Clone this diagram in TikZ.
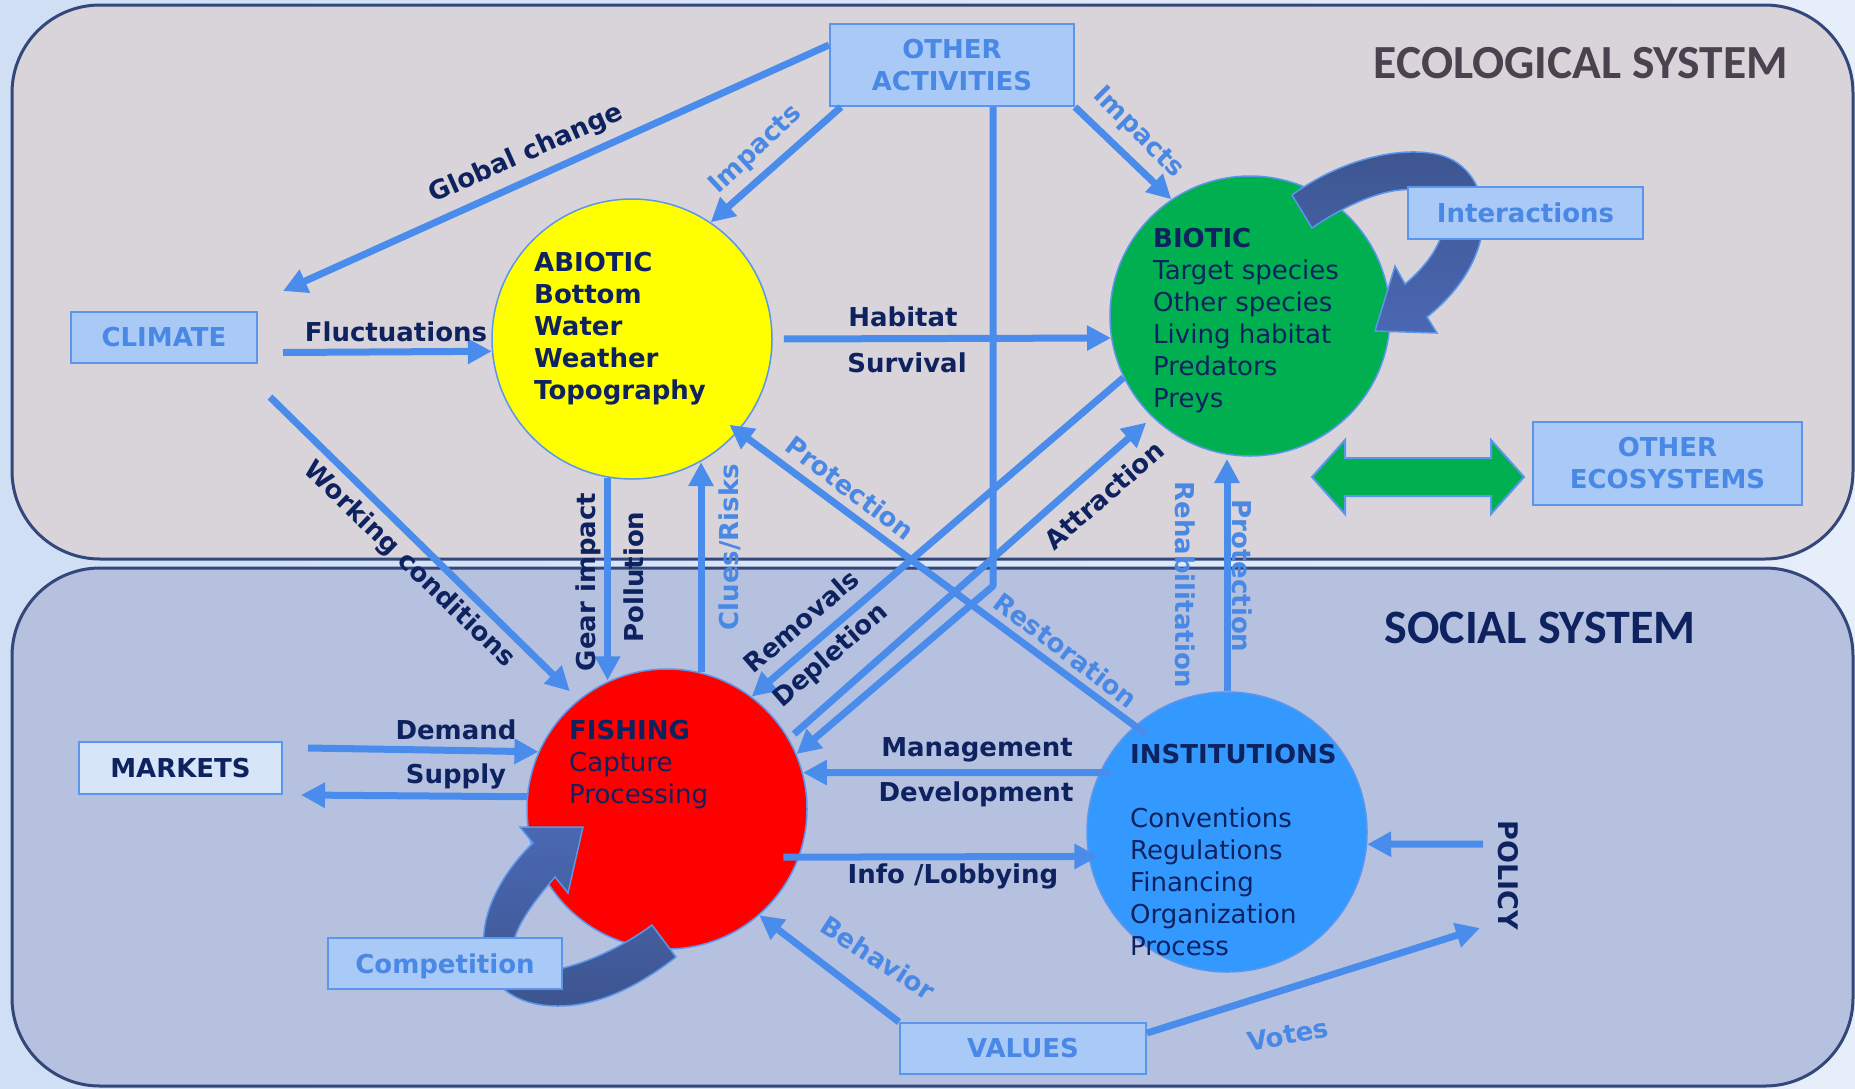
\documentclass[tikz,border=0pt]{standalone}
\usepackage{fontspec}
\setmainfont{DejaVu Sans}
\newfontfamily\titlefont{Carlito}
\usetikzlibrary{arrows.meta,calc}

\definecolor{bgleft}{HTML}{D0DFF4}
\definecolor{bgright}{HTML}{E6EEFA}
\definecolor{ecofill}{HTML}{D9D4DA}
\definecolor{socfill}{HTML}{B5C1DF}
\definecolor{panelline}{HTML}{33477A}
\definecolor{arrowblue}{HTML}{4A8CEB}
\definecolor{boxfill}{HTML}{A9C9F6}
\definecolor{boxline}{HTML}{5A96EC}
\definecolor{palebox}{HTML}{D6E6F8}
\definecolor{lblue}{HTML}{4A88E6}
\definecolor{navy}{HTML}{0E2260}
\definecolor{sunyellow}{HTML}{FFFF00}
\definecolor{leafgreen}{HTML}{00B050}
\definecolor{firered}{HTML}{FF0000}
\definecolor{skyblue}{HTML}{3399FF}
\definecolor{banddark}{HTML}{3D5590}
\definecolor{bandlight}{HTML}{4A68B2}
\definecolor{titlegray}{HTML}{4A424E}

\newcommand\dlabsize{\fontsize{26}{32}\selectfont}

\begin{document}
\begin{tikzpicture}[x=1pt, y=-1pt,
  conn/.style={draw=arrowblue, line width=7pt, line join=round},
  arr/.style={conn, -{Triangle[length=24pt,width=24pt]}},
  sphere/.style={circle, minimum size=280pt, inner sep=0pt, draw=boxline, line width=1.5pt},
  box/.style={rectangle, draw=boxline, line width=2pt, fill=boxfill, text=lblue,
    font=\bfseries\dlabsize, inner sep=0pt, align=center},
  lab/.style={text=navy, font=\bfseries\dlabsize, inner sep=0pt},
  lablight/.style={text=lblue, font=\bfseries\dlabsize, inner sep=0pt},
  circtext/.style={anchor=north west, align=left, inner sep=0pt, text=navy, font=\dlabsize},
  band/.style={draw=boxline, line width=1.5pt},
  panel/.style={draw=panelline, line width=3pt, rounded corners=88pt},
]
\useasboundingbox (0,0) rectangle (1855,1088);
\shade[left color=bgleft, right color=bgright] (0,0) rectangle (1855,1088);

% the two systems
\draw[panel, fill=ecofill] (12,5) rectangle (1853,559);
\draw[panel, fill=socfill] (12,568) rectangle (1853,1086);

\node[text=titlegray, font=\titlefont\bfseries\fontsize{47.5}{52}\selectfont, inner sep=0pt]
  (ecotitle) at (1581,63) {ECOLOGICAL SYSTEM};
\node[text=navy, font=\titlefont\bfseries\fontsize{48}{54}\selectfont, inner sep=0pt]
  (soctitle) at (1540,628) {SOCIAL SYSTEM};

% compartments
\node[sphere, fill=sunyellow] (abiotic) at (632,339) {};
\node[sphere, fill=leafgreen] (biotic) at (1250,316) {};
\node[sphere, fill=firered] (fishing) at (667,809) {};
\node[sphere, fill=skyblue] (institutions) at (1227,832) {};

% feedback loops
\path[band, top color=banddark, bottom color=bandlight]
  (1292,195) .. controls (1340,160) and (1400,145) .. (1440,155)
  .. controls (1495,170) and (1505,255) .. (1427,317)
  -- (1437,333) -- (1375,331) -- (1395,266) -- (1405,284)
  .. controls (1440,255) and (1458,215) .. (1430,195)
  .. controls (1400,178) and (1345,205) .. (1312,228) -- cycle;
\path[band, top color=bandlight, bottom color=banddark]
  (583,827) -- (568,893) -- (555,877)
  .. controls (535,900) and (516,925) .. (513,945)
  .. controls (510,968) and (535,975) .. (563,968)
  .. controls (595,960) and (628,943) .. (652,925)
  -- (676,957)
  .. controls (640,985) and (600,1006) .. (558,1006)
  .. controls (515,1006) and (488,985) .. (484,950)
  .. controls (480,910) and (505,870) .. (533,843)
  -- (520,827) -- cycle;

% boxes
\node[box, minimum width=244pt, minimum height=82pt] (oa) at (952,65) {OTHER\\ACTIVITIES};
\node[box, minimum width=186pt, minimum height=51pt] (climate) at (164,337.5) {CLIMATE};
\node[box, minimum width=235pt, minimum height=52pt] (interactions) at (1525.5,213) {Interactions};
\node[box, minimum width=269pt, minimum height=83pt] (otheco) at (1667.5,463.5) {OTHER\\ECOSYSTEMS};
\node[box, fill=palebox, text=navy, minimum width=203pt, minimum height=52pt] (markets) at (180.5,768) {MARKETS};
\node[box, text depth=0pt, minimum width=234pt, minimum height=51pt] (competition) at (445,963.5) {Competition};
\node[box, minimum width=246pt, minimum height=51pt] (values) at (1023,1048.5) {VALUES};

% exchange with other ecosystems
\draw[draw=boxline, line width=2pt, fill=leafgreen]
  (1312,477) -- (1345,440) -- (1345,458) -- (1491,458) -- (1491,440) -- (1524,477)
  -- (1491,514) -- (1491,496) -- (1345,496) -- (1345,514) -- cycle;

% free ends
\coordinate (depcorner) at (993,586);
\coordinate (policystart) at (1483,844);
\coordinate (votesend) at (1480,928);

% connectors
\draw[arr] ([yshift=20pt]oa.west) -- ([shift={(25pt,20pt)}]climate.north east);
\draw[arr] ([xshift=12pt]oa.south west) -- (abiotic.56);
\draw[arr] (oa.south east) -- (biotic.124);
\draw[arr] ([xshift=41pt]oa.south) -- (depcorner) -- (fishing.23);
\draw[arr] ([shift={(25pt,-15pt)}]climate.east) -- (abiotic.185);
\draw[arr, shorten <=11pt] (abiotic.east) -- (biotic.189);
\draw[arr, shorten >=12pt] ([shift={(12pt,-33pt)}]climate.south east) -- (fishing.129);
\draw[arr] (abiotic.260) -- (abiotic.260 |- fishing.114);
\draw[arr] (fishing.76) -- (fishing.76 |- abiotic.-61);
\draw[arr] (biotic.206) -- (fishing.53);
\draw[arr, shorten <=7pt, shorten >=8pt] (fishing.30) -- (biotic.226);
\draw[arr, shorten <=-14pt, shorten >=-11pt] (institutions.131) -- (abiotic.-41);
\draw[arr, shorten >=4pt] (institutions.north) -- (institutions.north |- biotic.-99);
\draw[arr] ([shift={(25pt,20pt)}]markets.east) -- (fishing.156);
\draw[arr] (fishing.175) -- ([shift={(18pt,-27pt)}]markets.east);
\draw[arr, shorten <=-11pt] (institutions.155) -- (fishing.15);
\draw[arr, shorten <=-16pt, shorten >=-10pt] (fishing.-20) -- (institutions.190);
\draw[arr] (policystart) -- (institutions.-5);
\draw[arr] (values.north west) -- (fishing.-49);
\draw[arr] ([yshift=-11pt]values.north east) -- (votesend);

% compartment contents
\node[circtext, font=\bfseries\dlabsize] (abiotictxt) at (534,252) {ABIOTIC\\Bottom\\Water\\Weather\\Topography};
\node[circtext] (biotictxt) at (1153,228) {\textbf{BIOTIC}\\Target species\\Other species\\Living habitat\\Predators\\Preys};
\node[circtext] (fishingtxt) at (569,720) {\textbf{FISHING}\\Capture\\Processing};
\node[circtext] (insttxt) at (1130,744) {\textbf{INSTITUTIONS}\\[32pt]Conventions\\Regulations\\Financing\\Organization\\Process};

% connector labels
\node[lab, rotate=24] (lglobal) at (526,154) {Global change};
\node[lablight, rotate=43] (limpl) at (756,150) {Impacts};
\node[lablight, rotate=-45] (limpr) at (1138,133) {Impacts};
\node[lab] (lfluct) at (396,332) {Fluctuations};
\node[lab] (lhabitat) at (903,317) {Habitat};
\node[lab] (lsurvival) at (907,363) {Survival};
\node[lab, rotate=-44] (lworking) at (409,565) {Working conditions};
\node[lab, rotate=90] (lgear) at (588,582) {Gear impact};
\node[lab, rotate=90] (lpollution) at (634,577) {Pollution};
\node[lablight, rotate=90] (lclues) at (730,547) {Clues/Risks};
\node[lablight, rotate=-37] (lprotdiag) at (850,488) {Protection};
\node[lab, rotate=41] (lremovals) at (801,621) {Removals};
\node[lab, rotate=41] (ldepletion) at (831,656) {Depletion};
\node[lab, rotate=41] (lattraction) at (1104,495) {Attraction};
\node[lablight, rotate=-37] (lrestoration) at (1066,650) {Restoration};
\node[lablight, rotate=-90] (lrehab) at (1185,585) {Rehabilitation};
\node[lablight, rotate=-90] (lprotvert) at (1242,576) {Protection};
\node[lab] (ldemand) at (456,730) {Demand};
\node[lab] (lsupply) at (456,776) {Supply};
\node[lab] (lmanagement) at (977,750) {Management};
\node[lab] (ldevelopment) at (976,794) {Development};
\node[lab] (linfo) at (953,876) {Info /Lobbying};
\node[lablight, rotate=-33] (lbehavior) at (878,958) {Behavior};
\node[lablight, rotate=10] (lvotes) at (1288,1035) {Votes};
\node[lab, rotate=-90, font=\bfseries\fontsize{27}{32}\selectfont] (policy) at (1508,875) {POLICY};
\end{tikzpicture}
\end{document}
